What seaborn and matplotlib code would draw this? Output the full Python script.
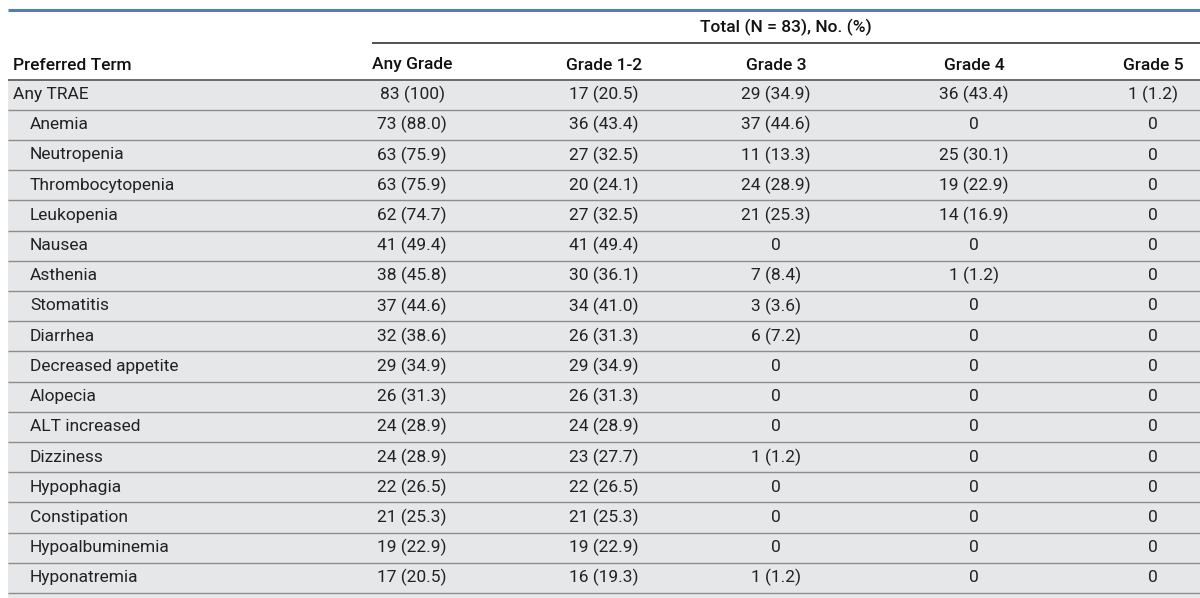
import matplotlib
matplotlib.use("Agg")
import matplotlib.pyplot as plt
import seaborn as sns
import pandas as pd

# Table data
terms = ["Any TRAE", "Anemia", "Neutropenia", "Thrombocytopenia", "Leukopenia",
         "Nausea", "Asthenia", "Stomatitis", "Diarrhea", "Decreased appetite",
         "Alopecia", "ALT increased", "Dizziness", "Hypophagia", "Constipation",
         "Hypoalbuminemia", "Hyponatremia"]
any_grade = ["83 (100)", "73 (88.0)", "63 (75.9)", "63 (75.9)", "62 (74.7)",
             "41 (49.4)", "38 (45.8)", "37 (44.6)", "32 (38.6)", "29 (34.9)",
             "26 (31.3)", "24 (28.9)", "24 (28.9)", "22 (26.5)", "21 (25.3)",
             "19 (22.9)", "17 (20.5)"]
grade_1_2 = ["17 (20.5)", "36 (43.4)", "27 (32.5)", "20 (24.1)", "27 (32.5)",
             "41 (49.4)", "30 (36.1)", "34 (41.0)", "26 (31.3)", "29 (34.9)",
             "26 (31.3)", "24 (28.9)", "23 (27.7)", "22 (26.5)", "21 (25.3)",
             "19 (22.9)", "16 (19.3)"]
grade_3 = ["29 (34.9)", "37 (44.6)", "11 (13.3)", "24 (28.9)", "21 (25.3)",
           "0", "7 (8.4)", "3 (3.6)", "6 (7.2)", "0", "0", "0", "1 (1.2)",
           "0", "0", "0", "1 (1.2)"]
grade_4 = ["36 (43.4)", "0", "25 (30.1)", "19 (22.9)", "14 (16.9)", "0",
           "1 (1.2)", "0", "0", "0", "0", "0", "0", "0", "0", "0", "0"]
grade_5 = ["1 (1.2)"] + ["0"] * 16
col_names = ["Any Grade", "Grade 1-2", "Grade 3", "Grade 4", "Grade 5"]

df = pd.DataFrame({"term": terms, "Any Grade": any_grade, "Grade 1-2": grade_1_2,
                   "Grade 3": grade_3, "Grade 4": grade_4, "Grade 5": grade_5})

sns.set_theme(style="white")
plt.rcParams["font.family"] = ["Roboto", "DejaVu Sans"]

fig = plt.figure(figsize=(12, 5.98), dpi=100)
ax = fig.add_axes([0, 0, 1, 1])
ax.set_xlim(0, 1200)
ax.set_ylim(598, 0)
ax.axis("off")

col_x = [412, 604, 776, 974, 1153]
row_h = 30.2
top = 79.5
bg = "#e6e7e8"
txt = "#222222"
fs = 12.5

# gray body
ax.add_patch(plt.Rectangle((8, top), 1200 - 8, 598 - top, color=bg, lw=0, zorder=0))

# header lines
ax.plot([8, 1200], [10, 10], color="#4f7fb3", lw=2.2, solid_capstyle="butt")
ax.plot([372, 1200], [42.5, 42.5], color="#333333", lw=1.2, solid_capstyle="butt")
ax.plot([8, 1200], [top, top], color="#555555", lw=1.2, solid_capstyle="butt")

ax.text(786, 27, "Total (N = 83), No. (%)", ha="center", va="center",
        fontsize=fs, color="#111111", fontweight="medium")
ax.text(13, 65, "Preferred Term", ha="left", va="center", fontsize=fs,
        color="#111111", fontweight="medium")
for x, name in zip(col_x, col_names):
    ax.text(x, 65, name, ha="center", va="center", fontsize=fs,
            color="#111111", fontweight="medium")

for i, row in df.iterrows():
    y = top + row_h * (i + 0.5)
    indent = 13 if i == 0 else 30
    ax.text(indent, y, row["term"], ha="left", va="center", fontsize=fs, color=txt)
    for x, name in zip(col_x, col_names):
        ax.text(x, y, row[name], ha="center", va="center", fontsize=fs, color=txt)
    yl = top + row_h * (i + 1)
    ax.plot([8, 1200], [yl, yl], color="#8c8c8c", lw=1.0, solid_capstyle="butt")

fig.savefig("out.png", dpi=100)
